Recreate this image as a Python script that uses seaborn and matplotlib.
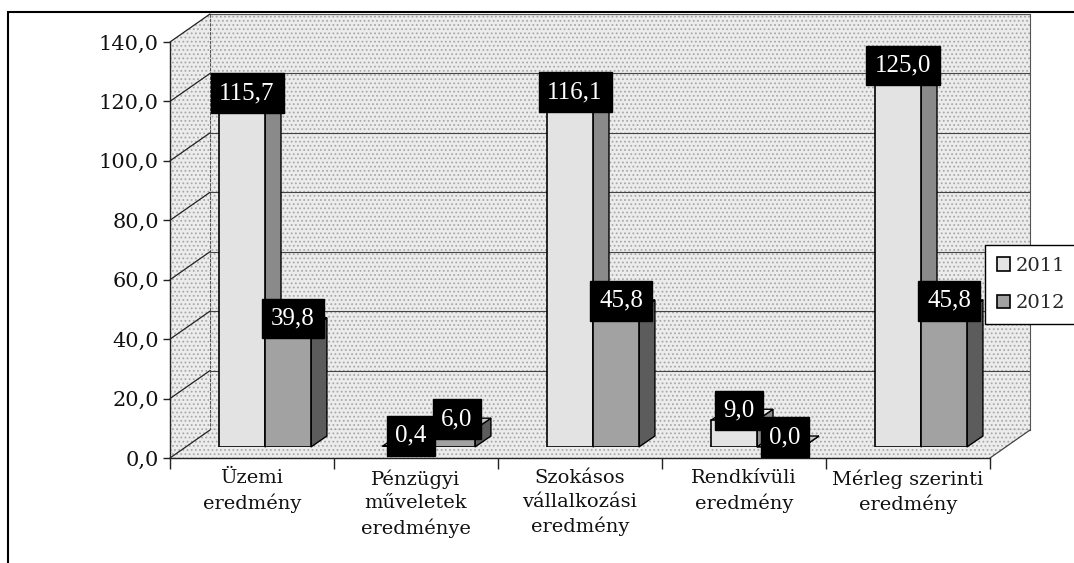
import matplotlib
matplotlib.use('Agg')
import matplotlib.pyplot as plt
import seaborn as sns
import pandas as pd
import numpy as np
from matplotlib.patches import Polygon, Rectangle, Patch, ConnectionPatch
from matplotlib.transforms import IdentityTransform
from matplotlib.ticker import FuncFormatter

# ---- data ----
categories = ["Üzemi\neredmény", "Pénzügyi\nműveletek\neredménye",
              "Szokásos\nvállalkozási\neredmény", "Rendkívüli\neredmény",
              "Mérleg szerinti\neredmény"]
years = ["2011", "2012"]
values_2011 = [115.7, 0.4, 116.1, 9.0, 125.0]
values_2012 = [39.8, 6.0, 45.8, 0.0, 45.8]
y_ticks = [0, 20, 40, 60, 80, 100, 120, 140]

sns.set_theme(style='white')
plt.rcParams['font.family'] = ['DejaVu Serif', 'DejaVu Sans']
plt.rcParams['hatch.linewidth'] = 0.8

W, H = 1074, 563
fig = plt.figure(figsize=(W / 100, H / 100), dpi=100)
fig.patch.set_facecolor('white')


def rect(left, top, width, height):
    return [left / W, 1 - (top + height) / H, width / W, height / H]


back = fig.add_axes(rect(210, 14, 820, 416), zorder=0)
front = fig.add_axes(rect(170, 42, 820, 416), zorder=1)
mid = fig.add_axes(rect(183, 31, 820, 416), zorder=2)

fmt = lambda v: f"{v:.1f}".replace('.', ',')
WALL = '#ececec'
DOTS = '#a8a8a8'

# ---- back wall ----
back.set_xlim(-0.5, 4.5)
back.set_ylim(0, 140)
back.set_facecolor(WALL)
back.patch.set_hatch('....')
back.patch.set_edgecolor(DOTS)
back.set_yticks(y_ticks)
back.set_xticks([])
back.tick_params(left=False, labelleft=False, bottom=False, labelbottom=False)
back.grid(axis='y', color='#444444', lw=0.8)
for s in back.spines.values():
    s.set_color('#555555')
    s.set_linewidth(0.8)
back.spines['left'].set_linestyle((0, (2, 2)))
back.spines['bottom'].set_linestyle((0, (2, 2)))

# ---- front axis (ticks & labels) ----
front.set_xlim(-0.5, 4.5)
front.set_ylim(0, 140)
front.set_facecolor('none')
for s in ['top', 'right']:
    front.spines[s].set_visible(False)
for s in ['left', 'bottom']:
    front.spines[s].set_color('#222222')
    front.spines[s].set_linewidth(1.0)
front.set_yticks(y_ticks)
front.yaxis.set_major_formatter(FuncFormatter(lambda v, p: fmt(v)))
front.tick_params(axis='y', left=True, length=5, width=1, color='#222222',
                  labelsize=15, pad=3, labelcolor='#111111')
front.set_xticks(np.arange(-0.5, 5, 1))
front.set_xticklabels([])
front.set_xticks(range(5), minor=True)
front.set_xticklabels(categories, minor=True, fontsize=14, linespacing=1.4,
                      color='#111111')
front.tick_params(axis='x', which='major', bottom=True, length=8, width=1,
                  color='#222222', direction='out')
front.tick_params(axis='x', which='minor', bottom=True, length=0, pad=8)

# ---- bars ----
df = pd.DataFrame({
    'category': categories * 2,
    'year': [years[0]] * len(categories) + [years[1]] * len(categories),
    'value': values_2011 + values_2012,
})
palette = {'2011': '#e3e3e3', '2012': '#a2a2a2'}
sns.barplot(data=df, x='category', y='value', hue='year', hue_order=years,
            order=categories, palette=palette, width=0.56, edgecolor='black',
            linewidth=1.2, saturation=1, ax=mid, legend=False)
mid.set_xlim(-0.5, 4.5)
mid.set_ylim(0, 140)
mid.axis('off')

DX, DY = 16, 11
side_colors = {'2011': '#8a8a8a', '2012': '#5c5c5c'}
top_colors = {'2011': '#f2f2f2', '2012': '#c9c9c9'}
for year, cont, vals in zip(years, mid.containers, [values_2011, values_2012]):
    for bar, v in zip(cont, vals):
        x0 = bar.get_x()
        x1 = x0 + bar.get_width()
        h = bar.get_height()
        (px0, py0), (px1, py1) = mid.transData.transform([(x0, 0), (x1, h)])
        side = Polygon([(px1, py0), (px1 + DX, py0 + DY), (px1 + DX, py1 + DY), (px1, py1)],
                       closed=True, transform=IdentityTransform(),
                       facecolor=side_colors[year], edgecolor='black', lw=1,
                       zorder=0.8, clip_on=False)
        top = Polygon([(px0, py1), (px1, py1), (px1 + DX, py1 + DY), (px0 + DX, py1 + DY)],
                      closed=True, transform=IdentityTransform(),
                      facecolor=top_colors[year], edgecolor='black', lw=1,
                      zorder=0.8, clip_on=False)
        mid.add_artist(side)
        mid.add_artist(top)
        mid.annotate(fmt(v), xy=(bar.get_x() + bar.get_width() / 2, h),
                     xytext=(5, 10), textcoords='offset pixels',
                     ha='center', va='center', color='white', fontsize=18,
                     family=['Liberation Serif', 'DejaVu Serif'],
                     bbox=dict(boxstyle='square,pad=0.35', fc='black', ec='black'),
                     zorder=5, annotation_clip=False)

# ---- side wall and floor ----
def disp(ax, x, y):
    return tuple(ax.transData.transform((x, y)))


fl, fr, ft = disp(front, -0.5, 0), disp(front, 4.5, 0), disp(front, -0.5, 140)
bl, br, bt = disp(back, -0.5, 0), disp(back, 4.5, 0), disp(back, -0.5, 140)
for pts in ([fl, ft, bt, bl], [fl, fr, br, bl]):
    fig.add_artist(Polygon(pts, closed=True, transform=IdentityTransform(),
                           facecolor=WALL, hatch='....', edgecolor=DOTS,
                           lw=0, zorder=0.5))
for v in y_ticks:
    fig.add_artist(ConnectionPatch((-0.5, v), (-0.5, v), front.transData, back.transData,
                                   color='#222222', lw=0.9, zorder=0.6))
fig.add_artist(ConnectionPatch((4.5, 0), (4.5, 0), front.transData, back.transData,
                               color='#444444', lw=0.9, zorder=0.6))

# ---- legend ----
handles = [Patch(facecolor=palette[y], edgecolor='black', lw=1.2) for y in years]
leg = fig.legend(handles, years, loc='upper left', bbox_to_anchor=(985 / W, 1 - 245 / H),
                 frameon=True, fancybox=False, edgecolor='black', fontsize=14,
                 handlelength=0.7, handleheight=0.7, handletextpad=0.3,
                 borderpad=0.6, borderaxespad=0, labelspacing=1.0, framealpha=1)
leg.get_frame().set_linewidth(1)
leg.set_zorder(10)

# ---- outer frame ----
fig.add_artist(Rectangle((8 / W, -0.1), 1.2, 1.1 - 12 / H, transform=fig.transFigure,
                         fill=False, edgecolor='black', lw=1.5, zorder=20))

fig.savefig('out.png', dpi=100)
